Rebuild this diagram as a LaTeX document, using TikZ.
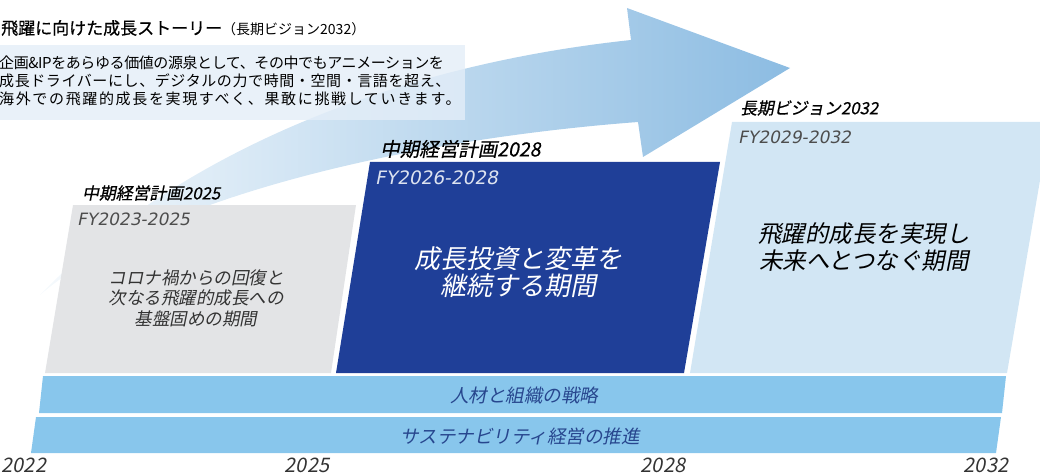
\documentclass[tikz,border=0pt]{standalone}
\usepackage{fontspec}
\newfontfamily\jp{Noto Sans CJK JP}
\newfontfamily\jpmd[FakeBold=0.6]{Noto Sans CJK JP}
\newfontfamily\jpit[FakeSlant=0.2]{Noto Sans CJK JP}
\newfontfamily\jpbit[FakeSlant=0.2,FakeBold=0.5]{Noto Sans CJK JP}
\newfontfamily\fyit[FakeSlant=0.2]{DejaVu Sans}
\definecolor{arrowblue}{HTML}{8CBCE2}
\definecolor{boxfill}{HTML}{E4EEF8}
\definecolor{grayfill}{HTML}{E3E4E6}
\definecolor{navy}{HTML}{1F3F98}
\definecolor{palefill}{HTML}{D2E6F4}
\definecolor{bandfill}{HTML}{88C6EC}
\definecolor{bandtxt}{HTML}{27468E}
\definecolor{fygray}{HTML}{4D4D4D}
\definecolor{fywhite}{HTML}{DDE3F0}
\definecolor{msgtxt}{HTML}{333333}
\usetikzlibrary{shapes}
\tikzset{
	lbl_n/.style = {inner sep=0pt, anchor=west,
		font=\jpbit\fontsize{16.8}{18}\selectfont},% plan label above the box
	fy_n/.style = {inner sep=0pt, anchor=west,
		font=\fyit\fontsize{17}{18}\selectfont},% fiscal years
	msg_n/.style = {inner sep=0pt, align=center},% message of the period
	band_n/.style = {inner sep=0pt, text=bandtxt,
		font=\jpit\fontsize{18.5}{20}\selectfont},% band across all periods
	yr_n/.style = {inner sep=0pt, text=msgtxt,
		font=\jpit\fontsize{20}{20}\selectfont}% year on the axis
}

\begin{document}
\begin{tikzpicture}[x=1pt,y=-1pt]
	\useasboundingbox (0,0) rectangle (1040,473);
	\clip (0,0) rectangle (1040,473);
	% growth arrow
	\shade[left color=arrowblue!8, middle color=arrowblue!88, right color=arrowblue]
		(40,295) .. controls (150,180) and (350,70) .. (631,40) -- (627,8) -- (790,68)
		-- (643,157) -- (638,122) .. controls (400,140) and (150,200) .. (40,295) -- cycle;
	% vision text
	\fill[boxfill, fill opacity=0.8] (0,45) rectangle (465,120);
	\node[anchor=west, inner sep=0pt, font=\jpmd\fontsize{17}{20}\selectfont] (ttl) at (1,28)
		{飛躍に向けた成長ストーリー{\jp\fontsize{14}{16}\selectfont（長期ビジョン2032）}};
	\node[anchor=north west, inner sep=0pt, align=left, font=\jp\fontsize{15}{18}\selectfont] (vision) at (-1,56)
		{{\addfontfeature{LetterSpace=-2.7}企画\&IPをあらゆる価値の源泉として、その中でもアニメーションを}\\
		{\addfontfeature{LetterSpace=4}成長ドライバーにし、デジタルの力で時間・空間・言語を超え、}\\
		{\addfontfeature{LetterSpace=11}海外での飛躍的成長を実現すべく、果敢に挑戦していきます。}};
	% period boxes
	\fill[grayfill] (73,205) -- (356,205) -- (331,373) -- (45,373) -- cycle;
	\fill[navy] (370,162) -- (720,162) -- (684,373) -- (336,373) -- cycle;
	\fill[palefill] (732,122) -- (1050,122) -- (1007,373) -- (690,373) -- cycle;
	% bands
	\fill[bandfill] (43,376) -- (1006,376) -- (1002,413) -- (39,413) -- cycle;
	\fill[bandfill] (36,417) -- (1001,417) -- (996,453) -- (31,453) -- cycle;
	% 2023-2025
	\node[lbl_n] (p25) at (82,193) {中期経営計画2025};
	\node[fy_n, text=fygray] (fy25) at (77,219) {FY2023-2025};
	\node[msg_n, text=msgtxt, font=\jpit\fontsize{17.5}{20.5}\selectfont] (m25) at (196,298)
		{コロナ禍からの回復と\\次なる飛躍的成長への\\基盤固めの期間};
	% 2026-2028
	\node[lbl_n, font=\jpbit\fontsize{19.5}{20}\selectfont] (p28) at (380,149) {中期経営計画2028};
	\node[fy_n, text=fywhite, font=\fyit\fontsize{18.5}{20}\selectfont] (fy28) at (375,178) {FY2026-2028};
	\node[msg_n, text=white, font=\jpit\fontsize{26}{27}\selectfont] (m28) at (518,272)
		{成長投資と変革を\\継続する期間};
	% 2029-2032
	\node[lbl_n] (p32) at (740,108) {長期ビジョン2032};
	\node[fy_n, text=fygray] (fy32) at (738,137) {FY2029-2032};
	\node[msg_n, font=\jpit\fontsize{23.5}{27}\selectfont] (m32) at (864,247)
		{飛躍的成長を実現し\\未来へとつなぐ期間};
	% bands text
	\node[band_n] (hr) at (524,395) {人材と組織の戦略};
	\node[band_n] (esg) at (520,436) {サステナビリティ経営の推進};
	% years
	\node[yr_n] (y22) at (24,465) {2022};
	\node[yr_n] (y25) at (307,465) {2025};
	\node[yr_n] (y28) at (663,465) {2028};
	\node[yr_n] (y32) at (986,465) {2032};
\end{tikzpicture}
\end{document}
